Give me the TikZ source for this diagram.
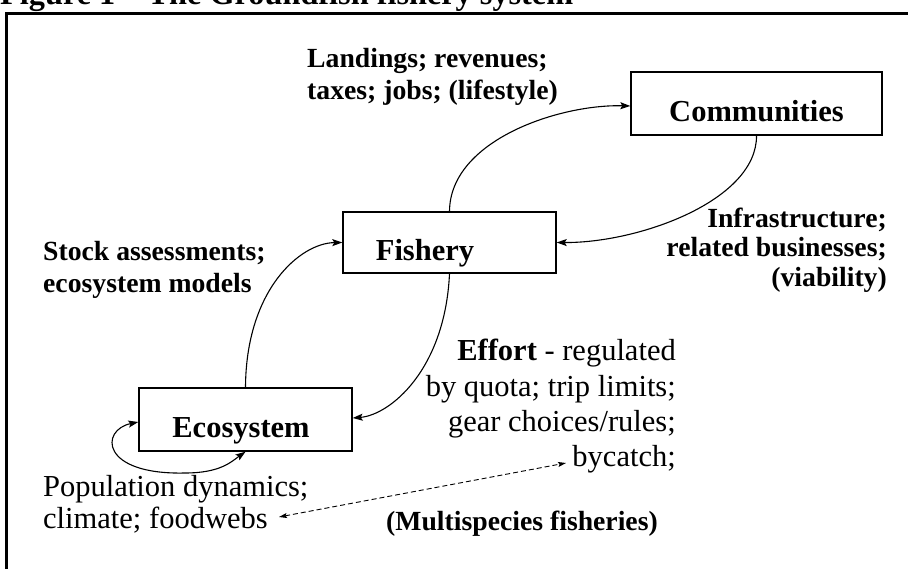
\documentclass[tikz,border=0pt]{standalone}
\usepackage{fontspec}
\setmainfont{Liberation Serif}
\usetikzlibrary{arrows.meta}
\begin{document}
\begin{tikzpicture}[x=1pt,y=-1pt,
  box/.style={draw, line width=1.4pt, minimum width=213pt, inner sep=0pt,
    text height=36pt, text depth=0pt,
    font=\fontsize{30.5pt}{33pt}\selectfont\bfseries},
  lab/.style={inner sep=0pt, font=\fontsize{27.7pt}{32pt}\selectfont\bfseries},
  txt/.style={inner sep=0pt, font=\fontsize{30.5pt}{35.3pt}\selectfont},
  link/.style={line width=1.1pt, -{Stealth[length=10pt,width=7pt,inset=2pt]}},
  dlink/.style={line width=0.9pt, dash pattern=on 5pt off 3pt,
    {Stealth[length=8pt,width=5pt,inset=1.5pt]}-{Stealth[length=8pt,width=5pt,inset=1.5pt]}}
]
\useasboundingbox (0,0) rectangle (908,569);

% title (cut at top edge)
\node[anchor=base west, inner sep=0pt, font=\fontsize{32.3pt}{34pt}\selectfont\bfseries]
  (title) at (0,5) {Figure 1 – The Groundfish fishery system};

% frame
\draw[line width=3pt] (6.5,580) -- (6.5,13.5) -- (920,13.5);

% boxes
\node[box, minimum width=251pt, minimum height=63pt] (comm) at (756.5,103.5) {Communities};
\node[box, minimum height=61pt] (fish) at (449.5,242.5) {Fishery\hspace*{49pt}};
\node[box, minimum height=63pt] (eco) at (245.5,419.5) {Ecosystem\hspace*{9pt}};

% labels (anchor = baseline of the last line)
\node[lab, anchor=base west, align=left] (landings) at (307,100)
  {Landings; revenues;\\taxes; jobs; (lifestyle)};
\node[lab, anchor=base west, align=left] (stock) at (43,293)
  {Stock assessments;\\ecosystem models};
\node[lab, anchor=base east, align=right,
  font=\fontsize{27.7pt}{29.8pt}\selectfont\bfseries] (infra) at (887,286.7)
  {Infrastructure;\\related businesses;\\(viability)};
\node[txt, anchor=base east, align=right] (effort) at (676,466.7)
  {\textbf{Effort} - regulated\\by quota; trip limits;\\gear choices/rules;\\bycatch;};
\node[txt, anchor=base west, align=left,
  font=\fontsize{30.5pt}{31.5pt}\selectfont] (pop) at (43,528)
  {Population dynamics;\\climate; foodwebs};
\node[lab, anchor=base west] (multi) at (386,530) {(Multispecies fisheries)};

% connectors
\draw[link] (fish.north) .. controls (450,140) and (560,104) .. ([yshift=-2.5pt]comm.west);
\draw[link] (comm.south) .. controls (757,200) and (640,243) .. (fish.east);
\draw[link] (eco.north) .. controls (246,290) and (300,243) .. (fish.west);
\draw[link] (fish.south) .. controls (445,370) and (390,415) .. ([yshift=1.5pt]eco.east);
\draw[line width=1.1pt, {Stealth[length=10pt,width=7pt,inset=2pt]}-{Stealth[length=10pt,width=7pt,inset=2pt]}]
  ([yshift=-2.5pt]eco.west) .. controls (100,430) and (100,475) .. (185,473)
  .. controls (220,473) and (231,462) .. (eco.south);

\coordinate (dL) at (279,517);
\coordinate (dR) at (566,463);
\draw[dlink] (dL) -- (dR);
\end{tikzpicture}
\end{document}
